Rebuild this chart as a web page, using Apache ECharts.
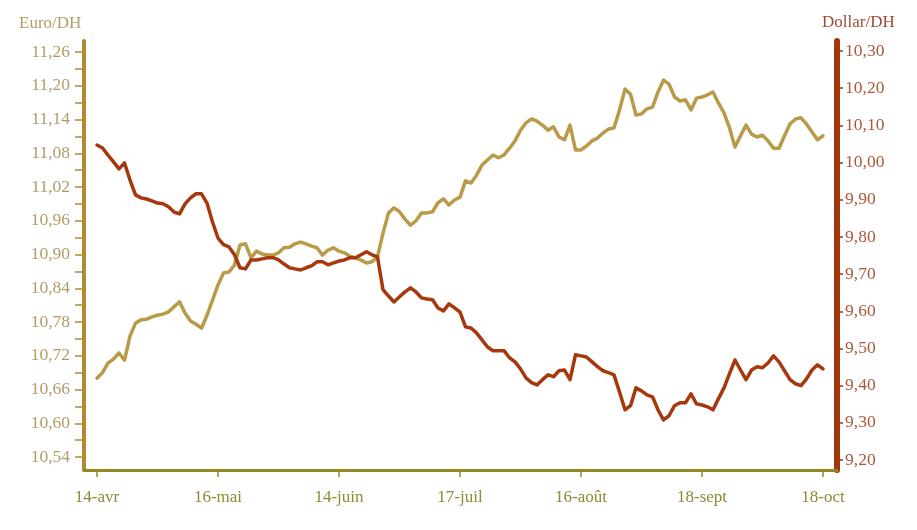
<!DOCTYPE html>
<html>
<head>
<meta charset="utf-8">
<script src="https://cdn.jsdelivr.net/npm/echarts@6/dist/echarts.min.js"></script>
<style>
html,body{margin:0;padding:0;background:#fff;}
#chart{width:917px;height:530px;}
</style>
</head>
<body>
<div id="chart"></div>
<script>
// X tick labels (placed every 22 trading sessions)
var xTickLabels = ['14-avr', '16-mai', '14-juin', '17-juil', '16-août', '18-sept', '18-oct'];
var xTickIndex = [0, 22, 44, 66, 88, 110, 132];

// Left axis (Euro/DH) tick labels
var leftTickValues = [10.54, 10.60, 10.66, 10.72, 10.78, 10.84, 10.90, 10.96, 11.02, 11.08, 11.14, 11.20, 11.26];
var leftMinorTickValues = [10.54, 10.57, 10.60, 10.63, 10.66, 10.69, 10.72, 10.75, 10.78, 10.81, 10.84, 10.87, 10.90, 10.93, 10.96, 10.99, 11.02, 11.05, 11.08, 11.11, 11.14, 11.17, 11.20, 11.23, 11.26];
// Right axis (Dollar/DH) tick labels
var rightTickValues = [9.20, 9.30, 9.40, 9.50, 9.60, 9.70, 9.80, 9.90, 10.00, 10.10, 10.20, 10.30];

// Euro / DH
var euro = [
10.680,10.690,10.707,10.714,10.725,10.712,10.755,10.778,10.784,10.785,
10.789,10.792,10.794,10.798,10.807,10.816,10.796,10.782,10.776,10.769,
10.792,10.819,10.846,10.867,10.869,10.881,10.917,10.919,10.894,10.906,
10.901,10.899,10.899,10.903,10.912,10.913,10.919,10.922,10.919,10.915,
10.912,10.899,10.908,10.912,10.906,10.903,10.897,10.894,10.890,10.885,
10.887,10.896,10.938,10.974,10.983,10.976,10.963,10.952,10.960,10.974,
10.974,10.976,10.992,10.999,10.988,10.997,11.002,11.031,11.027,11.041,
11.059,11.068,11.077,11.072,11.077,11.089,11.102,11.121,11.134,11.141,
11.137,11.130,11.121,11.127,11.109,11.104,11.130,11.086,11.086,11.093,
11.102,11.107,11.116,11.123,11.125,11.157,11.194,11.185,11.148,11.150,
11.159,11.162,11.189,11.210,11.203,11.180,11.173,11.175,11.157,11.178,
11.180,11.184,11.189,11.169,11.152,11.125,11.091,11.111,11.130,11.114,
11.109,11.112,11.102,11.089,11.089,11.111,11.132,11.141,11.143,11.132,
11.118,11.104,11.111
];

// Dollar / DH
var dollar = [
10.047,10.039,10.020,10.002,9.983,9.999,9.953,9.913,9.905,9.902,
9.897,9.891,9.889,9.881,9.867,9.862,9.889,9.905,9.916,9.916,
9.891,9.840,9.797,9.779,9.773,9.752,9.717,9.714,9.738,9.738,
9.741,9.744,9.744,9.738,9.727,9.717,9.714,9.711,9.717,9.722,
9.733,9.733,9.725,9.730,9.735,9.738,9.744,9.744,9.752,9.760,
9.752,9.746,9.658,9.641,9.625,9.639,9.652,9.663,9.652,9.636,
9.633,9.631,9.609,9.601,9.620,9.609,9.598,9.558,9.555,9.542,
9.523,9.504,9.494,9.494,9.494,9.475,9.464,9.445,9.421,9.408,
9.402,9.416,9.429,9.424,9.440,9.442,9.416,9.483,9.480,9.477,
9.464,9.451,9.440,9.435,9.429,9.383,9.335,9.346,9.394,9.386,
9.375,9.370,9.335,9.308,9.319,9.346,9.354,9.354,9.378,9.351,
9.348,9.343,9.335,9.365,9.394,9.432,9.469,9.442,9.416,9.442,
9.451,9.448,9.461,9.480,9.464,9.440,9.416,9.405,9.400,9.418,
9.442,9.456,9.445
];

function pairs(arr) { return arr.map(function (v, i) { return [i, v]; }); }
function fr(v) { return v.toFixed(2).replace('.', ','); }

var FONT = '"Liberation Serif", "DejaVu Serif", serif';
var GOLD = '#B99A48', GOLD_AXIS = '#AE8C34', GOLD_TEXT = '#B29C68';
var RED = '#A6380E', RED_AXIS = '#A2370A', RED_TEXT = '#A85A3C';
var OLIVE = '#8F8B1E', OLIVE_TEXT = '#8C8A34';

var chart = echarts.init(document.getElementById('chart'), null, {renderer: 'canvas'});
chart.setOption({
  animation: false,
  backgroundColor: '#ffffff',
  grid: {left: 84, right: 80, top: 41, bottom: 60, containLabel: false},
  graphic: [
    {type: 'text', left: 19, top: 15, style: {text: 'Euro/DH', font: '17px ' + FONT, fill: GOLD_TEXT}},
    {type: 'text', left: 822, top: 14, style: {text: 'Dollar/DH', font: '17px ' + FONT, fill: '#9E4A35'}}
  ],
  xAxis: {
    type: 'value',
    min: -2.364, max: 134.545,
    axisLine: {show: true, onZero: false, lineStyle: {color: OLIVE, width: 3}},
    axisTick: {show: true, length: 7, lineStyle: {color: OLIVE, width: 1.5}, customValues: xTickIndex},
    axisLabel: {
      customValues: xTickIndex, margin: 19,
      color: OLIVE_TEXT, fontFamily: FONT, fontSize: 17,
      formatter: function (v) { var k = xTickIndex.indexOf(Math.round(v)); return k >= 0 ? xTickLabels[k] : ''; }
    },
    splitLine: {show: false}
  },
  yAxis: [
    {
      type: 'value', position: 'left',
      min: 10.5169, max: 11.2796,
      axisLine: {show: true, onZero: false, lineStyle: {color: GOLD_AXIS, width: 4}},
      axisTick: {show: true, length: 9, lineStyle: {color: GOLD_AXIS, width: 1.5}, customValues: leftMinorTickValues},
      axisLabel: {customValues: leftTickValues, margin: 14, color: GOLD_TEXT, fontFamily: FONT, fontSize: 17.5, formatter: fr},
      splitLine: {show: false}
    },
    {
      type: 'value', position: 'right',
      min: 9.1731, max: 10.3269,
      axisLine: {show: true, onZero: false, lineStyle: {color: RED_AXIS, width: 6}},
      axisTick: {show: true, length: 6, lineStyle: {color: RED_AXIS, width: 1.5}, customValues: rightTickValues},
      axisLabel: {customValues: rightTickValues, margin: 8, color: RED_TEXT, fontFamily: FONT, fontSize: 17.5, formatter: fr},
      splitLine: {show: false}
    }
  ],
  series: [
    {
      name: 'Euro/DH', type: 'line', yAxisIndex: 0, data: pairs(euro),
      showSymbol: false, symbol: 'none',
      lineStyle: {color: GOLD, width: 3.5, join: 'round', cap: 'round'}
    },
    {
      name: 'Dollar/DH', type: 'line', yAxisIndex: 1, data: pairs(dollar),
      showSymbol: false, symbol: 'none',
      lineStyle: {color: RED, width: 3.5, join: 'round', cap: 'round'}
    }
  ]
});
</script>
</body>
</html>
